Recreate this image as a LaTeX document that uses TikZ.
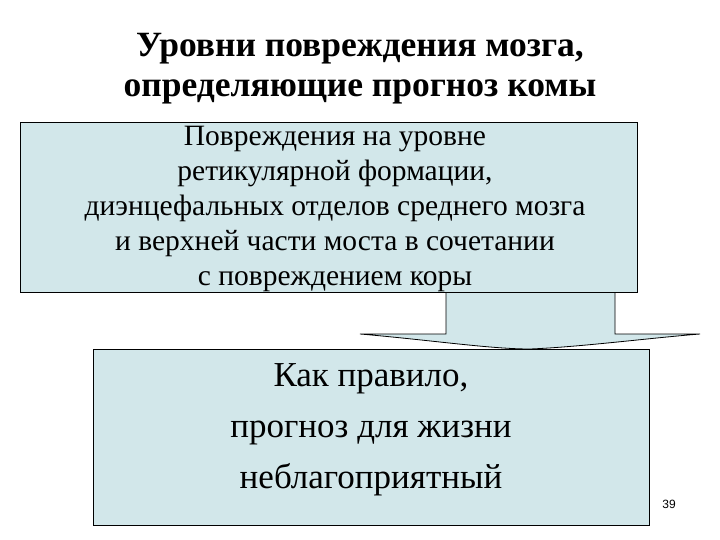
\documentclass[tikz,border=0pt]{standalone}
\usepackage{fontspec}
\setmainfont{Liberation Serif}
\newfontfamily\numfont{Liberation Sans}
\definecolor{boxfill}{RGB}{210,231,234}
\begin{document}
\begin{tikzpicture}[x=1pt,y=-1pt,
  box/.style={draw=black, line width=0.8pt, fill=boxfill, inner sep=0pt, anchor=north west},
  arrowshape/.style={draw=black, line width=0.8pt, fill=boxfill}]
\useasboundingbox (0,0) rectangle (720,540);
\fill[white] (0,0) rectangle (720,540);
\node[font=\bfseries\fontsize{35.5}{40}\selectfont, align=center] (title) at (360,69)
  {Уровни повреждения мозга,\\определяющие прогноз комы};
\coordinate (sl) at (446,290);
\coordinate (sr) at (615,290);
\coordinate (wl) at (360,334);
\coordinate (wr) at (700,334);
\coordinate (tip) at (530,349);
\draw[arrowshape] (sl) -- (446,334) -- (wl) .. controls (430,340) and (490,349) .. (tip)
  .. controls (580,347) and (650,338) .. (wr) -- (615,334) -- (sr);
\node[box, minimum width=617pt, minimum height=170pt] (top) at (20,122) {};
\node[font=\fontsize{29.5}{35}\selectfont, align=center] (toptext) at (335,209)
  {Повреждения на уровне\\ретикулярной формации,\\диэнцефальных отделов среднего мозга\\и верхней части моста в сочетании\\с повреждением коры};
\node[box, minimum width=556pt, minimum height=176pt] (bot) at (93,349) {};
\node[font=\fontsize{35}{51}\selectfont, align=center] (bottext) at (371,430)
  {Как правило,\\прогноз для жизни\\неблагоприятный};
\node[font=\numfont\fontsize{12}{14}\selectfont] (pn) at (669,504) {39};
\end{tikzpicture}
\end{document}
